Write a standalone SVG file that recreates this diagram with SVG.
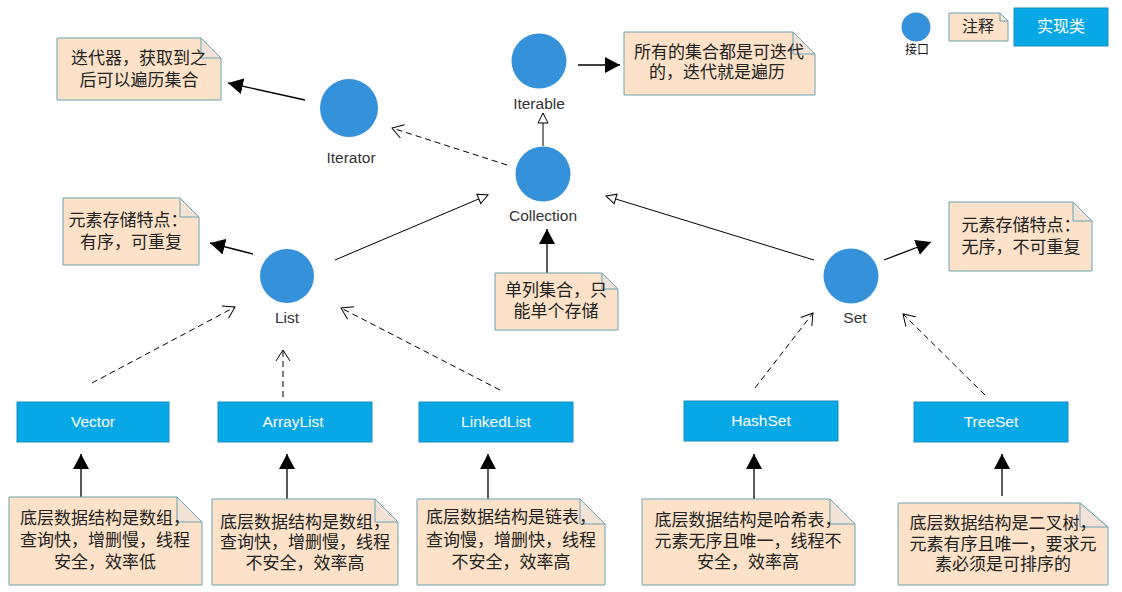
<svg xmlns="http://www.w3.org/2000/svg" width="1122" height="592" viewBox="0 0 1122 592">
<defs>
<style>
.note{fill:#fde1c9;stroke:#6aa3b3;stroke-width:1}
.fold{fill:#f3e3d6;stroke:#6aa3b3;stroke-width:1}
.iface{fill:#3592da}
.cls{fill:#08a8e6;stroke:#1b8cbd;stroke-width:1}
.nt{font-family:"Liberation Sans","Noto Sans CJK SC",sans-serif;font-size:17px;fill:#222;text-anchor:middle}
.lbl{font-family:"Liberation Sans",Arial,sans-serif;font-size:15.5px;fill:#333;text-anchor:middle}
.ct{font-family:"Liberation Sans","Noto Sans CJK SC",sans-serif;font-size:15.5px;fill:#ffffff;text-anchor:middle}
.solid{fill:none;stroke:#000;stroke-width:1.3}
.dash{fill:none;stroke:#000;stroke-width:1;stroke-dasharray:6 4}
</style>
<marker id="mf" markerUnits="userSpaceOnUse" markerWidth="16" markerHeight="16" refX="15" refY="8" orient="auto"><path d="M0,0 L15,8 L0,16 z" fill="#000"/></marker>
<marker id="mh" markerUnits="userSpaceOnUse" markerWidth="12" markerHeight="12" refX="11" refY="6" orient="auto"><path d="M1,1 L11,6 L1,11 z" fill="#fff" stroke="#000" stroke-width="1"/></marker>
<marker id="mo" markerUnits="userSpaceOnUse" markerWidth="14" markerHeight="16" refX="12" refY="8" orient="auto"><path d="M1,1 L12,8 L1,15" fill="none" stroke="#000" stroke-width="1"/></marker>
</defs>
<rect width="1122" height="592" fill="#fff"/>

<g id="connectors">
<!-- notes -->
<line class="solid" x1="305" y1="100" x2="228" y2="83" marker-end="url(#mf)"/>
<line class="solid" x1="578" y1="65" x2="620" y2="65" marker-end="url(#mf)"/>
<line class="solid" x1="253" y1="254" x2="210" y2="243" marker-end="url(#mf)"/>
<line class="solid" x1="884" y1="260" x2="931" y2="242" marker-end="url(#mf)"/>
<line class="solid" x1="547" y1="273" x2="547" y2="229" marker-end="url(#mf)"/>
<line class="solid" x1="81" y1="497" x2="81" y2="454" marker-end="url(#mf)"/>
<line class="solid" x1="287" y1="499" x2="287" y2="454" marker-end="url(#mf)"/>
<line class="solid" x1="488" y1="499" x2="488" y2="454" marker-end="url(#mf)"/>
<line class="solid" x1="754" y1="499" x2="754" y2="454" marker-end="url(#mf)"/>
<line class="solid" x1="1002" y1="496" x2="1002" y2="454" marker-end="url(#mf)"/>
<!-- inheritance -->
<line class="solid" x1="543" y1="146" x2="543" y2="113" marker-end="url(#mh)" style="stroke-width:1"/>
<line class="solid" x1="335" y1="260" x2="488" y2="195" marker-end="url(#mh)" style="stroke-width:1"/>
<line class="solid" x1="814" y1="260" x2="606" y2="196" marker-end="url(#mh)" style="stroke-width:1"/>
<!-- realization -->
<line class="dash" x1="507" y1="165" x2="392" y2="128" marker-end="url(#mo)"/>
<line class="dash" x1="92" y1="383" x2="235" y2="307" marker-end="url(#mo)"/>
<line class="dash" x1="283" y1="397" x2="283" y2="350" marker-end="url(#mo)"/>
<line class="dash" x1="500" y1="390" x2="341" y2="308" marker-end="url(#mo)"/>
<line class="dash" x1="755" y1="388" x2="813" y2="313" marker-end="url(#mo)"/>
<line class="dash" x1="985" y1="395" x2="903" y2="314" marker-end="url(#mo)"/>
</g>

<!-- interfaces -->
<g id="iterator"><circle class="iface" cx="349" cy="108" r="29"/><text class="lbl" x="351" y="163">Iterator</text></g>
<g id="iterable"><circle class="iface" cx="539" cy="61" r="27.5"/><text class="lbl" x="539" y="109">Iterable</text></g>
<g id="collection"><circle class="iface" cx="543" cy="174" r="27.5"/><text class="lbl" x="543" y="221">Collection</text></g>
<g id="list"><circle class="iface" cx="287" cy="276" r="27"/><text class="lbl" x="287" y="323">List</text></g>
<g id="set"><circle class="iface" cx="851" cy="276" r="27.5"/><text class="lbl" x="855" y="323">Set</text></g>

<!-- classes -->
<g id="vector"><rect class="cls" x="17" y="402" width="152" height="40"/><text class="ct" x="93" y="427">Vector</text></g>
<g id="arraylist"><rect class="cls" x="218" y="402" width="154" height="40"/><text class="ct" x="293" y="427">ArrayList</text></g>
<g id="linkedlist"><rect class="cls" x="419" y="402" width="154" height="40"/><text class="ct" x="496" y="427">LinkedList</text></g>
<g id="hashset"><rect class="cls" x="684" y="401" width="154" height="40"/><text class="ct" x="761" y="426">HashSet</text></g>
<g id="treeset"><rect class="cls" x="914" y="402" width="154" height="40"/><text class="ct" x="991" y="427">TreeSet</text></g>

<!-- notes -->
<g id="note-iterator">
<path class="note" d="M57,38 H201 L221,58 V100 H57 Z"/><path class="fold" d="M201,38 V58 H221 Z"/>
<text class="nt" x="139" y="64">迭代器，获取到之</text><text class="nt" x="139" y="86">后可以遍历集合</text>
</g>
<g id="note-iterable">
<path class="note" d="M624,32 H793 L815,54 V95 H624 Z"/><path class="fold" d="M793,32 V54 H815 Z"/>
<text class="nt" x="719" y="58">所有的集合都是可迭代</text><text class="nt" x="717" y="78">的，迭代就是遍历</text>
</g>
<g id="note-list">
<path class="note" d="M63,198 H180 L199,217 V265 H63 Z"/><path class="fold" d="M180,198 V217 H199 Z"/>
<text class="nt" x="128" y="226">元素存储特点：</text><text class="nt" x="131" y="248">有序，可重复</text>
</g>
<g id="note-collection">
<path class="note" d="M495,273 H602 L618,289 V330 H495 Z"/><path class="fold" d="M602,273 V289 H618 Z"/>
<text class="nt" x="556" y="296">单列集合，只</text><text class="nt" x="556" y="317">能单个存储</text>
</g>
<g id="note-set">
<path class="note" d="M949,202 H1073 L1092,221 V271 H949 Z"/><path class="fold" d="M1073,202 V221 H1092 Z"/>
<text class="nt" x="1021" y="231">元素存储特点：</text><text class="nt" x="1021" y="253">无序，不可重复</text>
</g>
<g id="note-vector">
<path class="note" d="M9,497 H177 L202,522 V585 H9 Z"/><path class="fold" d="M177,497 V522 H202 Z"/>
<text class="nt" x="105" y="524">底层数据结构是数组，</text><text class="nt" x="105" y="546">查询快，增删慢，线程</text><text class="nt" x="105" y="568">安全，效率低</text>
</g>
<g id="note-arraylist">
<path class="note" d="M212,499 H375 L398,522 V585 H212 Z"/><path class="fold" d="M375,499 V522 H398 Z"/>
<text class="nt" x="305" y="528">底层数据结构是数组，</text><text class="nt" x="305" y="548">查询快，增删慢，线程</text><text class="nt" x="305" y="569">不安全，效率高</text>
</g>
<g id="note-linkedlist">
<path class="note" d="M417,499 H580 L605,524 V585 H417 Z"/><path class="fold" d="M580,499 V524 H605 Z"/>
<text class="nt" x="511" y="523">底层数据结构是链表，</text><text class="nt" x="511" y="546">查询慢，增删快，线程</text><text class="nt" x="511" y="568">不安全，效率高</text>
</g>
<g id="note-hashset">
<path class="note" d="M642,499 H830 L855,524 V585 H642 Z"/><path class="fold" d="M830,499 V524 H855 Z"/>
<text class="nt" x="748" y="526">底层数据结构是哈希表，</text><text class="nt" x="748" y="547">元素无序且唯一，线程不</text><text class="nt" x="748" y="568">安全，效率高</text>
</g>
<g id="note-treeset">
<path class="note" d="M898,503 H1080 L1108,527 V585 H898 Z"/><path class="fold" d="M1080,503 V527 H1108 Z"/>
<text class="nt" x="1003" y="529">底层数据结构是二叉树，</text><text class="nt" x="1003" y="550">元素有序且唯一，要求元</text><text class="nt" x="1003" y="570">素必须是可排序的</text>
</g>

<!-- legend -->
<g id="legend-interface"><circle class="iface" cx="916" cy="27" r="14.5"/><text x="917" y="54" style="font-family:'Liberation Sans','Noto Sans CJK SC',sans-serif;font-size:12px;fill:#111;text-anchor:middle">接口</text></g>
<g id="legend-note"><path class="note" d="M949,13 H1000 L1008,21 V41 H949 Z"/><path class="fold" d="M1000,13 V21 H1008 Z"/><text class="nt" x="978" y="32" style="font-size:16px">注释</text></g>
<g id="legend-class"><rect class="cls" x="1014" y="8" width="94" height="38"/><text class="ct" x="1061" y="32" style="font-size:16px">实现类</text></g>
</svg>
